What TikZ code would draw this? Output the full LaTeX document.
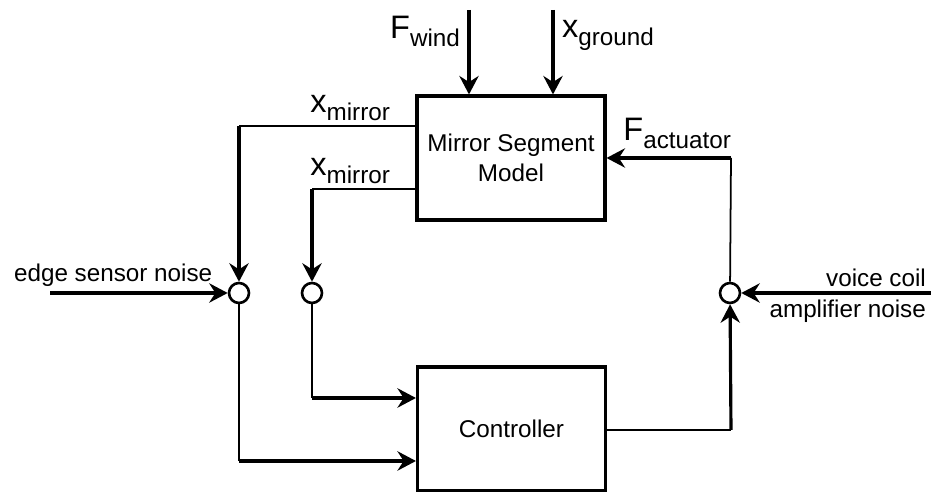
\documentclass[tikz,border=0pt]{standalone}
\usepackage{fontspec}
\setmainfont{Liberation Sans}
\usepackage{tikz}
\usetikzlibrary{arrows.meta}
\newcommand{\sig}[2]{{\fontsize{18.5}{20}\selectfont #1}\raisebox{-4.5pt}{#2}}
\tikzset{
  plantblock/.style={draw, line width=1.8pt, align=center, minimum width=3.76cm, minimum height=2.48cm, inner sep=2pt},
  sumpoint/.style={draw, circle, line width=1.5pt, minimum size=0.4cm, inner sep=0pt},
  siglabel/.style={inner sep=1pt, align=center},
  sigarrow/.style={-{Stealth[length=10.5pt, width=11pt, inset=3.5pt]}, line width=1.8pt},
  thinline/.style={line width=1pt}
}

\begin{document}
\begin{tikzpicture}[x=0.02cm, y=-0.02cm, font=\fontsize{13.8}{17}\selectfont]
    \useasboundingbox (0,0) rectangle (931,492);
    \node[plantblock] (mirror) at (511,158) {Mirror Segment\\Model};
    \node[plantblock] (ctrl) at (511.5,429) {Controller};
    \node[sumpoint] (sumedge) at (239,293) {};
    \node[sumpoint] (sumpos) at (312,293) {};
    \node[sumpoint] (sumcoil) at (730,293) {};

    \coordinate (wind) at (469,10);
    \coordinate (ground) at (553,10);
    \coordinate (tapa) at (417,126);
    \coordinate (tapb) at (417,189);
    \coordinate (edge) at (50,293);
    \coordinate (coil) at (931,293);
    \coordinate (force) at (731,158);
    \coordinate (ctrlout) at (731,430);
    \coordinate (ina) at (239,461);
    \coordinate (inb) at (312,398);

    \node[siglabel, anchor=south east] (lwind) at (462,49) {\sig{F}{wind}};
    \node[siglabel, anchor=south west] (lground) at (560,53) {\sig{x}{ground}};
    \node[siglabel, anchor=south east] (lmira) at (392,123) {\sig{x}{mirror}};
    \node[siglabel, anchor=south east] (lmirb) at (392,186) {\sig{x}{mirror}};
    \node[siglabel, anchor=south east] (lforce) at (733,151) {\sig{F}{actuator}};
    \node[siglabel, anchor=base west] (ledge) at (12,282) {edge sensor noise};
    \node[siglabel, anchor=base east] (lcoila) at (928,287) {voice coil};
    \node[siglabel, anchor=base east] (lcoilb) at (928,318) {amplifier noise};

    \draw[sigarrow] (wind) -- (wind |- mirror.north);
    \draw[sigarrow] (ground) -- (ground |- mirror.north);
    \draw[thinline] (tapa) -- (tapa -| sumedge);
    \draw[sigarrow] (tapa -| sumedge) -- (sumedge);
    \draw[thinline] (tapb) -- (tapb -| sumpos);
    \draw[sigarrow] (tapb -| sumpos) -- (sumpos);
    \draw[sigarrow] (edge) -- (sumedge);
    \draw[thinline] (sumedge) -- (ina);
    \draw[sigarrow] (ina) -- (ina -| ctrl.west);
    \draw[thinline] (sumpos) -- (inb);
    \draw[sigarrow] (inb) -- (inb -| ctrl.west);
    \draw[thinline] (ctrl.east |- ctrlout) -- (ctrlout);
    \draw[sigarrow] (ctrlout) -- (sumcoil);
    \draw[sigarrow] (coil) -- (sumcoil);
    \draw[thinline] (sumcoil) -- (force);
    \draw[sigarrow] (force) -- (force -| mirror.east);
\end{tikzpicture}
\end{document}
